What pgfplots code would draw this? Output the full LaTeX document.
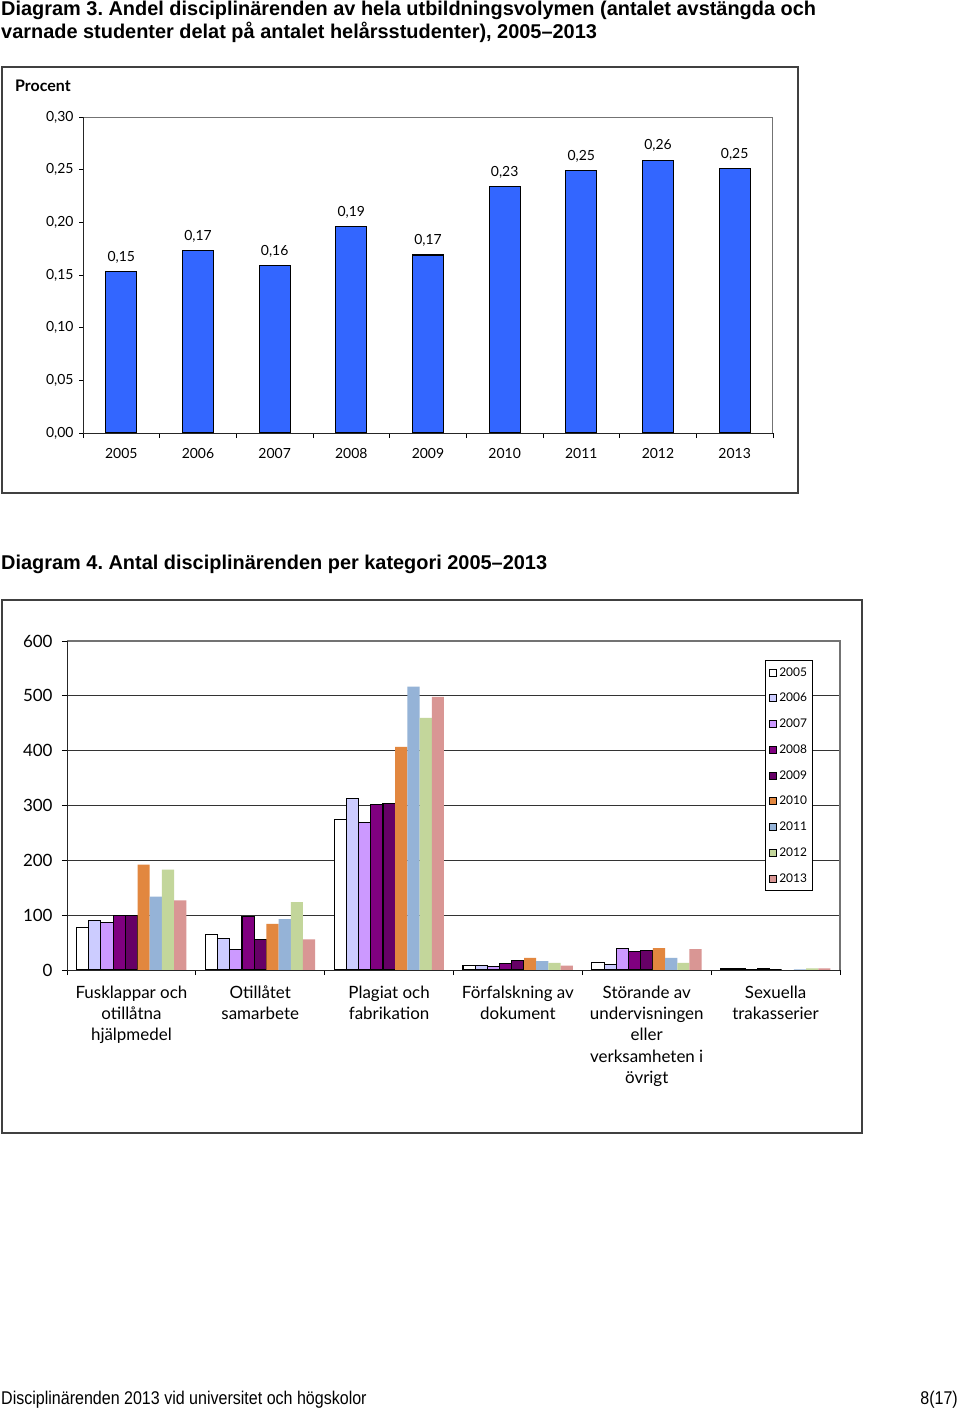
\documentclass[border=0pt]{standalone}
\usepackage{pgfplots}
\pgfplotsset{compat=1.18}
\usepackage{pgfplotstable}
\usepackage{fontspec}
\setmainfont{Liberation Sans}
\newfontfamily\chartfont{Lato}
\newfontfamily\narrowfont[FakeStretch=0.87]{Liberation Sans}
\definecolor{barblue}{RGB}{51,102,255}
\definecolor{c2005}{RGB}{255,255,255}
\definecolor{c2006}{RGB}{204,204,255}
\definecolor{c2007}{RGB}{204,153,255}
\definecolor{c2008}{RGB}{128,0,128}
\definecolor{c2009}{RGB}{102,0,102}
\definecolor{c2010}{RGB}{226,135,63}
\definecolor{c2011}{RGB}{149,179,215}
\definecolor{c2012}{RGB}{195,214,155}
\definecolor{c2013}{RGB}{217,150,148}

\pgfplotstableread{
x y label
0 0.153 0,15
1 0.173 0,17
2 0.159 0,16
3 0.196 0,19
4 0.169 0,17
5 0.234 0,23
6 0.249 0,25
7 0.259 0,26
8 0.251 0,25
}\andeltable

\pgfplotstableread{
cat y2005 y2006 y2007 y2008 y2009 y2010 y2011 y2012 y2013
0 78 90 87 99 100 192 134 183 127
1 64 58 37 98 55 84 93 124 56
2 275 312 269 302 304 407 517 460 498
3 8 8 6 12 17 22 16 13 8
4 14 10 39 33 35 40 22 13 38
5 3 3 0 3 0 0 1 3 3
}\kattable

\begin{document}
\frenchspacing
\begin{tikzpicture}
\useasboundingbox[fill=white] (0bp,0bp) rectangle (960bp,-1409bp);

% headings
\node[anchor=base west, inner sep=0pt, font=\bfseries\fontsize{20}{24}\selectfont] at (1bp,-15bp) {Diagram 3. Andel disciplinärenden av hela utbildningsvolymen (antalet avstängda och};
\node[anchor=base west, inner sep=0pt, font=\bfseries\fontsize{20}{24}\selectfont] at (1bp,-38bp) {varnade studenter delat på antalet helårsstudenter), 2005--2013};
\node[anchor=base west, inner sep=0pt, font=\bfseries\fontsize{20}{24}\selectfont] at (1bp,-569bp) {Diagram 4. Antal disciplinärenden per kategori 2005--2013};

% frames
\draw[black!75, line width=1.2bp] (2bp,-67bp) rectangle (798bp,-493bp);
\draw[black!75, line width=1.2bp] (2bp,-600bp) rectangle (862bp,-1133bp);

\node[anchor=base west, inner sep=0pt, font=\chartfont\bfseries\fontsize{16}{18}\selectfont] at (15bp,-91bp) {Procent};

% ---------- Chart 1 ----------
\begin{axis}[
  at={(83bp,-433bp)}, anchor=south west,
  scale only axis, width=690bp, height=316bp,
  xmin=-0.5, xmax=8.5, ymin=0, ymax=0.30,
  axis line style={draw=none},
  tick align=outside, tick pos=left,
  xtick={0,...,8},
  xticklabels={2005,2006,2007,2008,2009,2010,2011,2012,2013},
  major x tick style={draw=none},
  minor xtick={-0.5,0.5,...,8.5},
  minor tick length=5bp,
  minor x tick style={black, line width=0.8bp},
  ytick={0,0.05,0.1,0.15,0.2,0.25,0.3},
  yticklabels={{0,00},{0,05},{0,10},{0,15},{0,20},{0,25},{0,30}},
  major tick length=4bp,
  ytick style={black, line width=0.8bp},
  tick label style={font=\chartfont\fontsize{14}{16}\selectfont},
  yticklabel style={xshift=-2bp},
  xticklabel style={yshift=-8bp},
  clip=false,
]
\addplot[ybar, bar width=31bp, fill=barblue, draw=black, line width=1.2bp,
  nodes near coords, point meta=explicit symbolic,
  nodes near coords style={font=\chartfont\fontsize{14}{16}\selectfont, anchor=south, inner sep=0pt, yshift=8bp}]
  table[x=x, y=y, meta=label] {\andeltable};
\draw[black!55, line width=1bp] (rel axis cs:0,1) -- (rel axis cs:1,1) -- (rel axis cs:1,0);
\draw[black!85, line width=1bp] (rel axis cs:0,1) -- (rel axis cs:0,0) -- (rel axis cs:1,0);
\end{axis}

% ---------- Chart 2 ----------
\begin{axis}[
  at={(67bp,-970bp)}, anchor=south west,
  scale only axis, width=773bp, height=329bp,
  xmin=-0.5, xmax=5.5, ymin=0, ymax=600,
  ybar=0pt, bar width=12.2bp,
  legend image code/.code={\draw[#1, line width=0.9bp] (0bp,-3.5bp) rectangle (7bp,3.5bp);},
  axis line style={draw=none},
  tick align=outside, tick pos=left,
  ytick={0,100,...,600},
  /pgf/number format/assume math mode=true,
  ymajorgrids, grid style={black!80, line width=0.9bp},
  xtick={0,...,5},
  xticklabels={{Fusklappar och\\otillåtna\\hjälpmedel},{Otillåtet\\samarbete},{Plagiat och\\fabrikation},{Förfalskning av\\dokument},{Störande av\\undervisningen\\eller\\verksamheten i\\övrigt},{Sexuella\\trakasserier}},
  major x tick style={draw=none},
  minor xtick={-0.5,0.5,...,5.5},
  minor tick length=5bp,
  minor x tick style={black, line width=0.8bp},
  major tick length=5bp,
  ytick style={black, line width=0.8bp},
  tick label style={font=\chartfont\fontsize{17}{21.5}\selectfont},
  xticklabel style={align=center, yshift=-7bp},
  yticklabel style={xshift=-6bp},
  legend style={at={(0.965,0.942)}, anchor=north east, draw=black, line width=0.9bp,
    font=\chartfont\fontsize{12}{13}\selectfont, row sep=11.6bp, inner xsep=3.5bp, inner ysep=5bp,
    cells={anchor=west}},
  legend cell align=left,
  clip=false,
]
\addplot[fill=c2005, draw=black, line width=1.1bp] table[x=cat, y=y2005] {\kattable};
\addplot[fill=c2006, draw=black, line width=1.1bp] table[x=cat, y=y2006] {\kattable};
\addplot[fill=c2007, draw=black, line width=1.1bp] table[x=cat, y=y2007] {\kattable};
\addplot[fill=c2008, draw=black, line width=1.1bp] table[x=cat, y=y2008] {\kattable};
\addplot[fill=c2009, draw=black, line width=1.1bp] table[x=cat, y=y2009] {\kattable};
\addplot[fill=c2010, draw=none] table[x=cat, y=y2010] {\kattable};
\addplot[fill=c2011, draw=none] table[x=cat, y=y2011] {\kattable};
\addplot[fill=c2012, draw=none] table[x=cat, y=y2012] {\kattable};
\addplot[fill=c2013, draw=none] table[x=cat, y=y2013] {\kattable};
\legend{2005,2006,2007,2008,2009,2010,2011,2012,2013}
\draw[black!55, line width=1.2bp] (rel axis cs:0,1) -- (rel axis cs:1,1) -- (rel axis cs:1,0);
\draw[black!85, line width=1bp] (rel axis cs:0,1) -- (rel axis cs:0,0) -- (rel axis cs:1,0);
\end{axis}

% footer
\node[anchor=base west, inner sep=0pt, font=\narrowfont\fontsize{18.5}{20}\selectfont] at (1bp,-1404bp) {Disciplinärenden 2013 vid universitet och högskolor};
\node[anchor=base east, inner sep=0pt, font=\narrowfont\fontsize{18.5}{20}\selectfont] at (958bp,-1404bp) {8(17)};
\end{tikzpicture}
\end{document}
